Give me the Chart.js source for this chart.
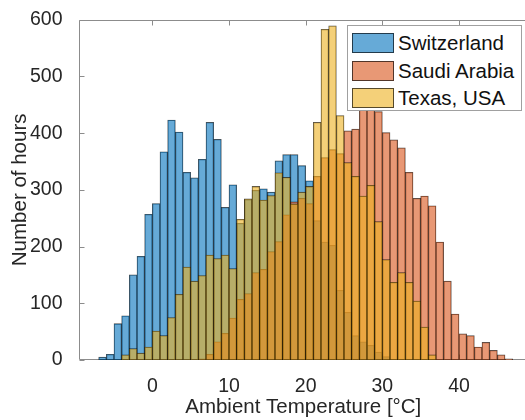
<!DOCTYPE html>
<html>
<head>
<meta charset="utf-8">
<script src="https://cdn.jsdelivr.net/npm/chart.js@4"></script>
<style>
  html, body { margin: 0; padding: 0; background: #fff; overflow: hidden; }
  #wrap { position: relative; width: 540px; height: 420px; }
  #legend {
    position: absolute; left: 347px; top: 25px; width: 175px; height: 86px;
    box-sizing: border-box; border: 1px solid #a0a0a0; background: #fff;
    font-family: "Liberation Sans", Arial, sans-serif; font-size: 20.5px; color: #111;
  }
  .row { position: absolute; left: 4px; height: 20px; display: flex; align-items: center; white-space: nowrap; }
  .sw { width: 42px; height: 20px; box-sizing: border-box; border: 1px solid rgba(0,0,0,0.65); margin-right: 4px; }
</style>
</head>
<body>
<div id="wrap">
  <canvas id="chart"></canvas>
  <div id="legend"></div>
</div>
<script>
// Histogram counts, 1 °C bins; each list starts at the left edge given
const seriesNames = ['Switzerland', 'Saudi Arabia', 'Texas, USA'];

const swissStart = -7;
const swissCounts = [5, 10, 64, 78, 150, 183, 257, 276, 367, 423, 402, 331, 321, 354, 419, 389, 269, 309,
  241, 283, 299, 302, 296, 351, 362, 362, 343, 316, 246, 208, 202, 123, 84, 43, 32, 26, 14, 6];

const saudiStart = 6;
const saudiCounts = [2, 10, 32, 47, 74, 107, 117, 154, 160, 191, 209, 256, 279, 285, 276, 324, 357, 371,
  364, 404, 407, 446, 450, 438, 401, 388, 374, 331, 285, 289, 272, 208, 139, 81, 46, 43, 23, 31, 17, 9, 2];

const texasStart = -4;
const texasCounts = [9, 20, 12, 23, 51, 43, 75, 116, 164, 139, 149, 185, 179, 185, 161, 248, 284, 306,
  282, 290, 330, 322, 275, 296, 306, 419, 583, 589, 431, 348, 324, 289, 308, 244, 177, 137, 154, 137, 104, 58, 9];

const xTicks = [0, 10, 20, 30, 40];
const yTicks = [0, 100, 200, 300, 400, 500, 600];

const colors = ['rgba(0,114,189,0.6)', 'rgba(217,83,25,0.6)', 'rgba(237,177,32,0.6)'];

// bin counts -> {x: bin centre, y: count}
function toPoints(start, counts) {
  return counts.map((c, i) => ({x: start + i + 0.5, y: c}));
}

const FONT = '"Liberation Sans", Arial, sans-serif';
const TXT = '#262626';

// MATLAB style box + inward ticks
const frame = {
  id: 'frame',
  beforeDatasetsDraw(chart) {
    const {ctx, chartArea: a, scales: {x, y}} = chart;
    const L = Math.round(a.left) + 0.5, T = Math.round(a.top) + 0.5;
    const B = Math.round(a.bottom) - 0.5, R = Math.round(a.right) + 0.5;
    ctx.save();
    ctx.strokeStyle = '#8c8c8c';
    ctx.lineWidth = 1;
    ctx.beginPath();
    ctx.moveTo(L, B); ctx.lineTo(L, T); ctx.lineTo(R, T); ctx.lineTo(R, B); ctx.lineTo(L, B);
    xTicks.forEach(v => {
      const px = Math.round(x.getPixelForValue(v)) + 0.5;
      ctx.moveTo(px, T); ctx.lineTo(px, T + 5);
      ctx.moveTo(px, B); ctx.lineTo(px, B - 5);
    });
    yTicks.forEach(v => {
      const py = Math.round(y.getPixelForValue(v)) + 0.5;
      ctx.moveTo(L, py); ctx.lineTo(L + 5, py);
    });
    ctx.stroke();
    ctx.restore();
  }
};

const ctx = document.getElementById('chart').getContext('2d');
const chart = new Chart(ctx, {
  type: 'bar',
  data: {
    datasets: [
      {label: seriesNames[0], data: toPoints(swissStart, swissCounts), backgroundColor: colors[0], order: 2},
      {label: seriesNames[1], data: toPoints(saudiStart, saudiCounts), backgroundColor: colors[1], order: 1},
      {label: seriesNames[2], data: toPoints(texasStart, texasCounts), backgroundColor: colors[2], order: 0}
    ]
  },
  options: {
    responsive: true,
    maintainAspectRatio: false,
    animation: false,
    events: [],
    layout: {padding: {left: 0, top: 14, right: 12, bottom: 0}},
    datasets: {
      bar: {
        grouped: false, barPercentage: 1, categoryPercentage: 1,
        borderColor: 'rgba(0,0,0,0.7)', borderWidth: 0.6, borderSkipped: false
      }
    },
    plugins: {legend: {display: false}, tooltip: {enabled: false}},
    scales: {
      x: {
        type: 'linear', min: -9.63, max: 49, offset: false,
        grid: {display: false}, border: {display: false},
        afterBuildTicks: s => { s.ticks = xTicks.map(v => ({value: v})); },
        afterFit: s => { s.height = 60; },
        ticks: {color: TXT, padding: 7, maxRotation: 0, font: {family: FONT, size: 19.5}},
        title: {display: true, text: 'Ambient Temperature [°C]', color: TXT, padding: {top: 0, bottom: 2},
          font: {family: FONT, size: 20.5, lineHeight: 1}}
      },
      y: {
        min: 0, max: 600,
        grid: {display: false}, border: {display: false},
        afterBuildTicks: s => { s.ticks = yTicks.map(v => ({value: v})); },
        afterFit: s => { s.width = 78.5; },
        ticks: {color: TXT, padding: 8, font: {family: FONT, size: 19.5}},
        title: {display: true, text: 'Number of hours', color: TXT, padding: {top: 10, bottom: 0},
          font: {family: FONT, size: 20.5, lineHeight: 1}}
      }
    }
  },
  plugins: [frame]
});

// legend box in the upper right, like MATLAB's 'northeast'
const legend = document.getElementById('legend');
const rowTops = [7, 35, 62];
seriesNames.forEach((name, i) => {
  const row = document.createElement('div');
  row.className = 'row';
  row.style.top = rowTops[i] + 'px';
  const sw = document.createElement('span');
  sw.className = 'sw';
  sw.style.background = colors[i];
  const label = document.createElement('span');
  label.textContent = name;
  row.appendChild(sw);
  row.appendChild(label);
  legend.appendChild(row);
});
</script>
</body>
</html>
